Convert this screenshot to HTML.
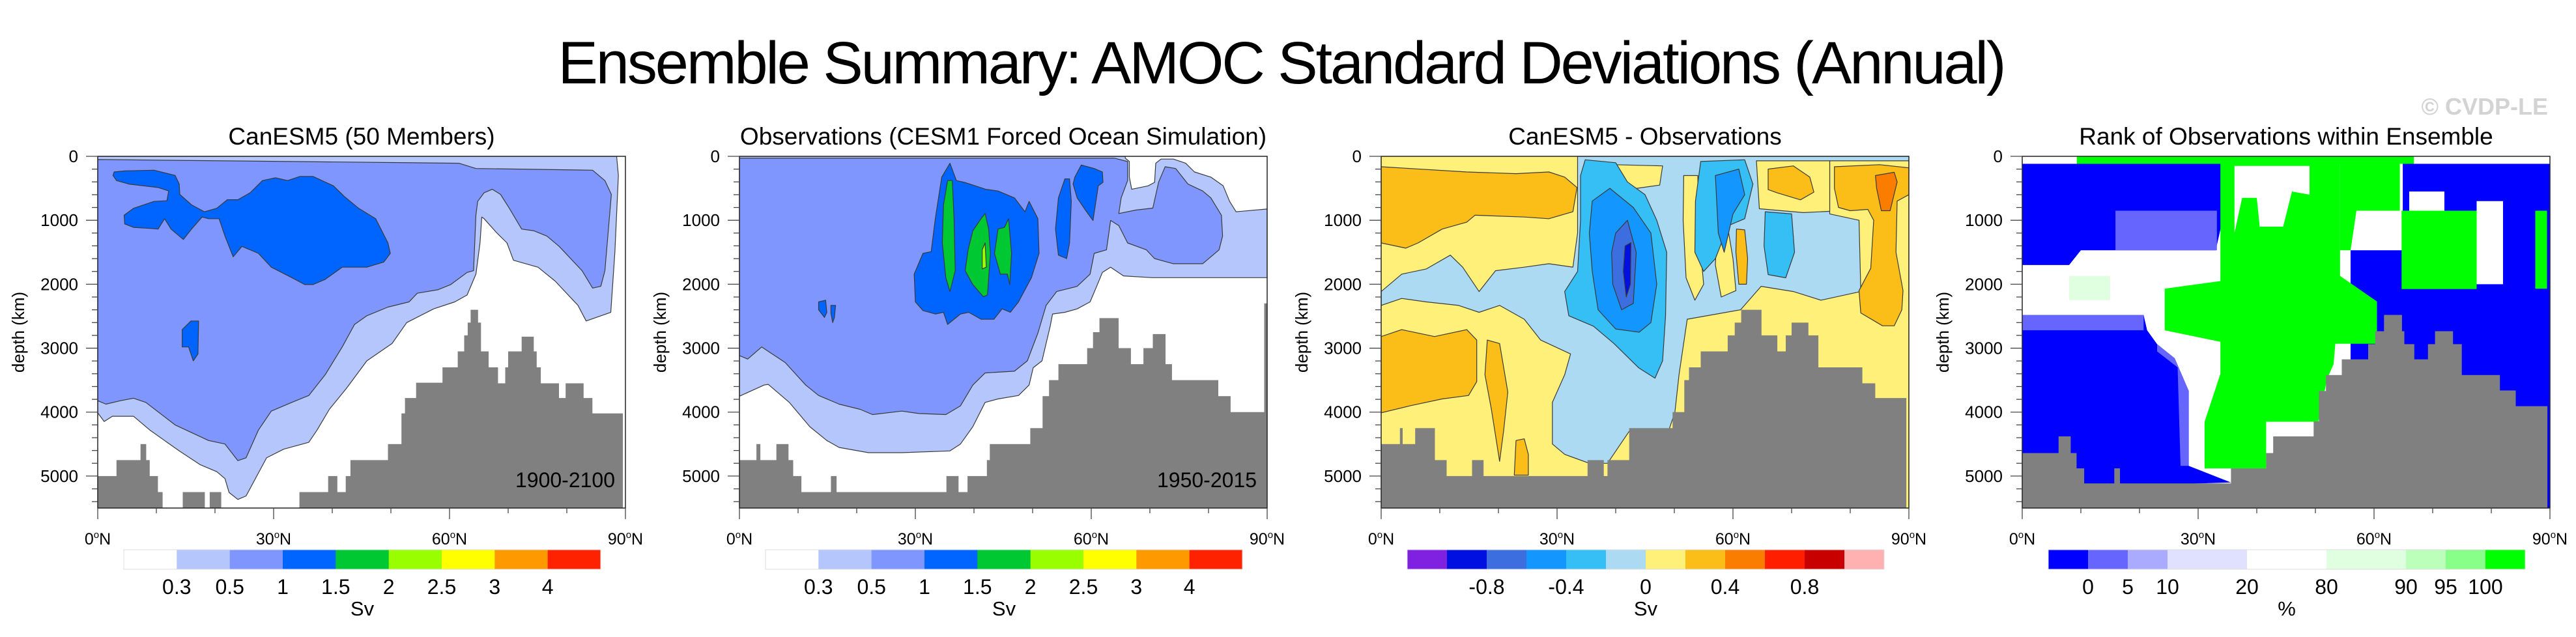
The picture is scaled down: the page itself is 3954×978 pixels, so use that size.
<!DOCTYPE html>
<html><head><meta charset="utf-8"><title>AMOC Standard Deviations</title>
<style>html,body{margin:0;padding:0;background:#fff}svg{display:block}text{font-family:"Liberation Sans",Arial,sans-serif}</style>
</head><body>
<svg id="chart" width="3954" height="978" viewBox="0 0 3954 978" xmlns="http://www.w3.org/2000/svg">
<text x="1968" y="128" font-size="92" text-anchor="middle" textLength="2223">Ensemble Summary: AMOC Standard Deviations (Annual)</text>
<text x="3911" y="176" font-size="36" font-weight="bold" fill="#d3d3d3" text-anchor="end">© CVDP-LE</text>
</svg>
<script>
// ---------- data ----------
const depthTicks = [0, 1000, 2000, 3000, 4000, 5000];
const latTicks = [0, 30, 60, 90];
const panelTitles = ["CanESM5 (50 Members)", "Observations (CESM1 Forced Ocean Simulation)", "CanESM5 - Observations", "Rank of Observations within Ensemble"];
const panelPeriods = ["1900-2100", "1950-2015", "", ""];
const sdLabels = ["0.3", "0.5", "1", "1.5", "2", "2.5", "3", "4"];
const diffLabels = ["-0.8", "-0.4", "0", "0.4", "0.8"];
const rankLabels = ["0", "5", "10", "20", "80", "90", "95", "100"];

// bathymetry (lat bin edges, depth of sea floor)
const topoEdges1 = [0,3.2,7.3,8.2,8.8,10.2,11,14.5,18.2,19.1,21,34.4,39.3,40.8,42.3,43.1,49.5,51.8,52.4,54.3,58.8,61.4,62.5,63.1,63.6,64.8,65.3,66.6,68.2,69.5,70,72.3,74.3,74.8,75.5,78.6,79.8,82.8,84.3,89.5];
const topoDepth1 = [5000,4750,4500,4750,5000,5250,5500,5250,5500,5250,5500,5250,5000,5250,5000,4750,4500,4020,3780,3540,3300,3050,2800,2600,2400,2600,3050,3300,3550,3300,3050,2820,3050,3300,3550,3780,3550,3780,4020];
const topoEdges2 = [0,2.9,3.5,6.3,8.3,9.1,10.5,15.6,16.5,35.3,37.3,38.9,42.2,42.7,49.6,51.7,52.8,54.4,59.3,60.3,61.4,64.6,66.7,68.9,70.5,72.6,73.7,81.6,83.7,89.5,90];
const topoDepth2 = [4750,4500,4750,4500,4750,5000,5250,5000,5250,5000,5250,5000,4750,4500,4250,3750,3500,3250,3000,2750,2530,3000,3250,3000,2780,3250,3500,3750,4000,2300];
const topoEdges3 = [0,3.2,3.6,5.8,9.1,11.1,15.5,17.4,35.2,37.9,38.6,42.3,49.7,51.7,52.5,54.5,59.1,60.3,61.4,64.8,67.5,69,70,72.8,74.5,82,84.2,89.5];
const topoDepth3 = [4500,4250,4500,4250,4750,5000,4750,5000,4750,5000,4750,4250,4000,3500,3300,3050,2800,2600,2400,2800,3050,2800,2600,2800,3300,3550,3780];
const topoEdges4 = [0,6.2,8.2,9.2,10.5,15.7,16.6,35.6,41.6,42.8,49.7,50.6,51.8,54.5,59,60.2,61.7,64.7,65.1,66.8,69.2,70.4,73.4,74.9,81.4,84.1,89.5];
const topoDepth4 = [4640,4380,4640,4880,5115,4880,5115,4880,4640,4380,4145,3670,3420,3175,2937,2735,2480,2735,2937,3175,2937,2735,2937,3420,3662,3907];

// panel 1 contour regions [lat, depth]
const p1Light = [[0,0],[88.5,0],[88.8,300],[88.2,1500],[87.5,2440],[83.3,2575],[81.9,2330],[78,1950],[75.1,1735],[70.9,1626],[69.8,1355],[68,1192],[65.9,976],[65.5,950],[65.2,1355],[64.5,1843],[63,2168],[60.9,2276],[57.3,2385],[52.7,2600],[50.2,2927],[45.9,3198],[42.4,3631],[39.5,3957],[37.4,4282],[36,4472],[31.7,4580],[28.8,4715],[25.3,5312],[23.9,5366],[22.4,5257],[21.7,5040],[20.3,4932],[17.5,4824],[13.9,4607],[8.9,4282],[7.5,4173],[6.1,4065],[2.5,4065],[1.1,4146],[0,4011]];
const p1Mid = [[0,50],[61.6,108],[64.5,190],[84.4,217],[86.5,380],[87.6,596],[86.5,1789],[85.8,2033],[84.4,2060],[82.6,1789],[78.7,1409],[76.6,1247],[74.4,1165],[72.3,1138],[70.2,813],[68.7,596],[67.3,515],[65.9,569],[64.8,705],[64.5,921],[64.1,1789],[63,1816],[60.2,2005],[58,2087],[54.5,2141],[53.1,2276],[49.5,2358],[45.9,2493],[43.8,2629],[41.7,2981],[38.8,3415],[36,3740],[33.1,3848],[29.6,3984],[27.4,4282],[25.3,4715],[23.9,4759],[21.7,4499],[18.9,4444],[13.2,4200],[8.2,3848],[6.1,3783],[3.9,3821],[1.4,3875],[0,3821]];
const p1Dark1 = [[2.8,244],[4.6,228],[9.6,217],[13.2,298],[13.9,434],[14,596],[16,759],[18.2,867],[20.3,813],[22.1,678],[23.9,678],[26,569],[28.1,379],[30.3,336],[32.4,379],[34.5,314],[36.7,314],[40.2,461],[42,623],[44.5,813],[47.4,976],[49.5,1355],[49.9,1518],[48.8,1653],[45.9,1734],[41.7,1734],[38.8,1924],[36.7,2005],[35.3,2005],[33.1,1897],[29.6,1734],[27.4,1518],[24.6,1409],[23.1,1572],[21.7,1247],[20.7,976],[18.9,976],[17.8,949],[16,1138],[14.6,1301],[12.5,1138],[11.4,976],[10.3,1138],[8.9,1127],[6.1,1111],[4.6,1057],[4.5,921],[6.1,813],[9.6,705],[11.8,694],[12.1,542],[10.3,488],[5.3,434],[3.2,379],[2.6,298]];
const p1Dark2 = [[14.4,2710],[15.9,2575],[17.2,2575],[17.1,3090],[16.3,3198],[15.5,2981],[14.4,2981]];

// panel 2 contour regions
const p2Light = [[0,0],[65.8,0],[65.8,27],[66.5,81],[66.5,325],[66.9,515],[69.7,461],[70.8,407],[71,108],[71.9,43],[74,43],[76.1,108],[77.6,244],[80.4,325],[82.5,461],[83.6,705],[84.7,867],[90,824],[90,1897],[70.4,1897],[65.5,1870],[63.3,1734],[61.9,1816],[60.8,2060],[59.8,2276],[57.6,2385],[55.5,2439],[53.4,2466],[53,2656],[51.6,3198],[50.1,3306],[49.4,3577],[47.6,3740],[44.1,3794],[41.9,3848],[39.8,4228],[37.7,4499],[35.9,4607],[27.7,4634],[22,4634],[17,4553],[14.9,4444],[12,4228],[8.5,3848],[4.9,3566],[4.2,3577],[0,3751]];
const p2Mid = [[0,30],[64,30],[66.2,81],[66.2,380],[65.1,650],[64.7,894],[67.6,840],[70.5,810],[71.5,400],[72.6,163],[74.4,190],[76.5,434],[79,542],[80.4,650],[82.2,921],[82.4,1247],[81.8,1463],[80.4,1572],[79,1680],[74,1680],[70.8,1599],[69.4,1463],[66.2,1355],[64.7,1084],[63.3,1003],[62.6,1463],[60.5,1518],[59.8,1843],[57.6,2033],[54.1,2114],[52.3,2331],[50.9,2764],[49.1,3198],[46.9,3360],[41.9,3388],[39.8,3577],[37.7,3902],[35.2,4038],[30.6,4022],[27.7,3984],[22.7,4038],[20.6,3957],[17,3875],[13.5,3740],[11.3,3577],[7.8,3225],[3.8,2981],[1.4,3171],[0,3117]];
const p2Dark1 = [[34.5,325],[35.9,108],[37,379],[38.4,407],[42,515],[44.1,542],[46.9,650],[48.7,867],[49.4,705],[50.9,976],[51.1,1518],[49.8,1897],[47.6,2276],[46.2,2439],[44.8,2385],[43.4,2547],[41.2,2547],[39.1,2439],[37.7,2466],[35.5,2629],[34.8,2439],[33.4,2466],[31.3,2412],[30,2276],[29.8,1843],[31.3,1518],[32.7,1490],[33.4,976]];
const p2Dark2 = [[13.5,2276],[14.7,2250],[14.9,2439],[14.5,2520],[13.5,2400]];
const p2Dark3 = [[15.6,2330],[16.4,2330],[16.2,2520],[15.9,2600],[15.6,2450]];
const p2Dark4 = [[55.5,352],[56.3,352],[56.6,705],[56.3,1355],[55.8,1599],[54.4,1545],[53.9,1138],[54.4,650]];
const p2Dark5 = [[57.2,325],[58.3,135],[60.5,190],[61.9,244],[62,407],[61.2,461],[60.3,1003],[59,840],[57.6,650],[56.9,434]];
const p2Green1 = [[35.5,379],[36.3,379],[36.6,976],[36.8,1789],[35.9,2114],[35.2,1897],[34.6,1355],[34.8,759]];
const p2Green2 = [[39.8,1165],[41.2,976],[41.9,894],[42.5,1138],[42.8,1518],[42.3,2168],[41.6,2195],[39.8,2005],[38.5,1789],[39,1463]];
const p2Green3 = [[44.1,1138],[45.2,1111],[45.9,976],[46.4,1518],[46.1,2005],[45.7,1843],[44.5,1843],[43.5,1518]];
const p2Lime = [[41.4,1463],[41.9,1355],[42.1,1734],[41.4,1761]];

// panel 3 contour regions
const p3LightBlue = [[33.5,0],[90,0],[90,70],[76.5,70],[76.5,900],[81.5,1000],[81.8,2114],[75,2250],[70.3,2114],[64.8,2033],[61.3,2400],[52.2,2547],[50.8,3415],[50.1,4000],[49,4300],[42.3,4300],[38.6,4800],[35.5,4800],[31.3,4661],[29.2,4499],[29.2,3848],[31.3,3415],[32.3,3090],[27.2,2873],[24.4,2547],[20.2,2331],[16.7,2439],[13.2,2331],[7.7,2276],[3.5,2222],[0,2331],[0,2114],[3.5,1843],[7.7,1761],[11.8,1545],[13.9,1734],[16.7,2114],[19.5,1789],[24.4,1734],[28.6,1680],[32.7,1734],[33.5,1200]];
const p3YellowA = [[64,70],[76.5,70],[76.5,860],[72,880],[64.5,820]];
const p3YellowB = [[51.6,300],[54,300],[54.2,1200],[55,2000],[53.5,2250],[52,1900],[51.5,1000]];
const p3YellowC = [[57.3,1100],[59,1050],[60,1600],[60.5,2100],[58,2200],[57,1700]];
const p3YellowD = [[39.7,130],[48,150],[47.5,450],[42,520],[40,300]];
const p3OrangeTL = [[0,163],[4.9,190],[14.6,244],[23,271],[28.6,244],[31.3,325],[33.4,488],[32.7,867],[28.6,976],[24.4,949],[16,921],[14.6,1030],[10.4,1138],[6.3,1355],[4.2,1436],[0,1355]];
const p3OrangeBL = [[0,2818],[3.5,2710],[9.1,2818],[14.6,2710],[16.3,2873],[16.3,3523],[14.9,3740],[10.4,3794],[4.9,3902],[0,4011]];
const p3OrangeS1 = [[18.1,2873],[20.2,2927],[21.6,3686],[20.9,4282],[20.2,4770],[18.8,3957],[17.7,3415]];
const p3OrangeS2 = [[23,4444],[24.4,4417],[25.1,4661],[25.1,4986],[22.7,4986]];
const p3OrangeTM = [[66,200],[70.3,150],[73.1,325],[73.8,560],[71.5,680],[67.5,569],[66,520]];
const p3OrangeM = [[60.6,1138],[62,1150],[62.5,1600],[62.3,2000],[61,2000],[60.5,1500]];
const p3OrangeR = [[77.3,163],[85,130],[90,180],[90,600],[88,700],[87.8,1500],[89,2100],[88.8,2400],[87.5,2650],[85.5,2650],[81.8,2450],[81.5,2100],[83.5,1750],[84,1000],[83,830],[80,850],[78,800],[77.3,500]];
const p3Red = [[84.3,300],[87.5,250],[88,400],[86.8,850],[85.3,850],[84.5,500]];
const p3Cyan1 = [[34.8,54],[40,100],[42,400],[45,600],[47,1000],[48.7,1500],[48.5,2500],[48,3198],[46.7,3469],[43.9,3306],[39.7,2927],[36.2,2656],[32,2493],[31.3,2114],[33.5,1800],[34,1000],[34,300]];
const p3Cyan2 = [[54.5,80],[62,54],[63.4,434],[62,976],[59.2,1084],[57,1600],[55,1800],[53.5,1500],[53.6,700]];
const p3Cyan3 = [[65.5,867],[70,900],[70.5,1500],[69,1900],[66,1850],[65.3,1400]];
const p3Blue1 = [[36,700],[39,500],[43,800],[46,1200],[47,2000],[46,2600],[44,2750],[40,2700],[37,2400],[36,1800],[35.5,1200]];
const p3Blue2 = [[57,300],[61,200],[62,600],[60,900],[58.5,1500],[57.5,1200]];
const p3Blue3 = [[40,1200],[42,1000],[43.5,1500],[43,2300],[41,2400],[39.5,2000],[39.3,1500]];
const p3Blue4 = [[41.6,1400],[42.6,1350],[42.5,2000],[41.8,2200],[41.3,1800]];

// panel 4 rank regions
const p4BlueTL = [[0,117],[34.4,117],[34.4,900],[33,1470],[10,1470],[8,1700],[0,1700]];
const p4MidTL = [[15.9,850],[33.2,850],[33.2,1470],[15.9,1470]];
const p4BlueBL = [[0,2480],[20.7,2480],[21.3,2720],[23,2937],[26,3157],[28.4,3670],[28.4,4840],[35.6,5100],[0,5200]];
const p4MidBL = [[0,2480],[20.7,2480],[20.7,2720],[0,2720]];
const p4MidStrip = [[23,2937],[26,3157],[28.4,3670],[28.4,4840],[27,4840],[26.5,3300],[23,3050]];
const p4BlueR = [[56,1470],[64.9,1470],[64.9,117],[90,117],[90,5500],[56,5500]];
const p4GreenTop = [[9.3,0],[66.8,0],[66.8,117],[9.3,117]];
const p4GreenMain = [[33.8,117],[54.2,117],[54.2,1870],[60.5,2270],[60.5,2930],[53.4,2930],[53.1,3250],[52,3480],[50.5,4150],[41.6,4150],[41.6,4880],[31.1,4880],[31.1,4150],[33.8,3400],[33.8,2900],[24.3,2720],[24.3,2070],[33.8,1950]];
const p4GreenTR = [[54.2,117],[64.4,117],[64.4,850],[57,850],[56,1470],[54.2,1470]];
const p4WhiteTop = [[36.2,150],[49,150],[49,600],[46,550],[44.5,1100],[40.5,1100],[40,650],[37.5,650],[36.2,1200]];
const p4GreenR1 = [[64.7,850],[77.5,850],[77.5,2075],[64.7,2075]];
const p4GreenR2 = [[87.5,850],[89.5,850],[89.5,2070],[87.5,2070]];
const p4WhiteR = [[77.5,700],[82,700],[82,2000],[77.5,2000]];
const p4WhiteR2 = [[66,550],[72,550],[72,850],[66,850]];
const p4PaleL = [[8,1870],[15,1870],[15,2250],[8,2250]];

// ---------- geometry ----------
const svg = document.getElementById('chart');
const NS = 'http://www.w3.org/2000/svg';
const PL = [150, 1135, 2120, 3104];
const PT = 240, PW = 810, PH = 540, DMAX = 5500;
function mk(tag, attrs, parent) {
  const e = document.createElementNS(NS, tag);
  for (const k in attrs) e.setAttribute(k, attrs[k]);
  (parent || svg).appendChild(e);
  return e;
}
function xs(L, lat) { return L + lat / 90 * PW; }
function ys(d) { return PT + d / DMAX * PH; }
function poly(L, pts, fill, stroke, g, name) {
  const s = pts.map(p => xs(L, p[0]).toFixed(1) + ',' + ys(p[1]).toFixed(1)).join(' ');
  const e = mk('polygon', {points: s, fill: fill, stroke: stroke ? '#3a3a3a' : 'none', 'stroke-width': stroke ? 1.2 : 0, 'stroke-linejoin': 'round'}, g);
  
  
}

const C1 = {light: '#b4c6fb', mid: '#7f96ff', dark: '#0064ff', green: '#00c832', lime: '#99ff00'};
const C3 = {purple: '#8020e0', navy: '#0010e0', blue3: '#3c6ee0', blue: '#1496ff', cyan: '#35bff5', lblue: '#acdaf2', yellow: '#fff07a', orange: '#fbbe18', dorange: '#fa7d00', red: '#ff1e00', dred: '#c80000', pink: '#ffb0b0'};
const C4 = {b: '#0000ff', b2: '#6666ff', b3: '#aaaaff', b4: '#e0e0ff', w: '#ffffff', g4: '#e0ffe0', g3: '#bbffbb', g2: '#88ff88', g: '#00ff00'};

const layers = [
  [[p1Light, C1.light, 'contour-0.3'], [p1Mid, C1.mid, 'contour-0.5'], [p1Dark1, C1.dark, 'contour-1'], [p1Dark2, C1.dark, 'contour-1']],
  [[p2Light, C1.light, 'contour-0.3'], [p2Mid, C1.mid, 'contour-0.5'], [p2Dark1, C1.dark, 'contour-1'], [p2Dark2, C1.dark, 'contour-1'], [p2Dark3, C1.dark, 'contour-1'], [p2Dark4, C1.dark, 'contour-1'], [p2Dark5, C1.dark, 'contour-1'], [p2Green1, C1.green, 'contour-1.5'], [p2Green2, C1.green, 'contour-1.5'], [p2Green3, C1.green, 'contour-1.5'], [p2Lime, C1.lime, 'contour-2']],
  [[p3LightBlue, C3.lblue, 'contour-neg0.2'], [p3YellowA, C3.yellow, 'contour-0'], [p3YellowB, C3.yellow, 'contour-0'], [p3YellowC, C3.yellow, 'contour-0'], [p3YellowD, C3.yellow, 'contour-0'], [p3OrangeTL, C3.orange, 'contour-0.2'], [p3OrangeBL, C3.orange, 'contour-0.2'], [p3OrangeS1, C3.orange, 'contour-0.2'], [p3OrangeS2, C3.orange, 'contour-0.2'], [p3OrangeTM, C3.orange, 'contour-0.2'], [p3OrangeM, C3.orange, 'contour-0.2'], [p3OrangeR, C3.orange, 'contour-0.2'], [p3Red, C3.dorange, 'contour-0.4'], [p3Cyan1, C3.cyan, 'contour-neg0.4'], [p3Cyan2, C3.cyan, 'contour-neg0.4'], [p3Cyan3, C3.cyan, 'contour-neg0.4'], [p3Blue1, C3.blue, 'contour-neg0.6'], [p3Blue2, C3.blue, 'contour-neg0.6'], [p3Blue3, C3.blue3, 'contour-neg0.8'], [p3Blue4, C3.navy, 'contour-neg1']],
  [[p4BlueR, C4.b, 'rank-0'], [p4BlueTL, C4.b, 'rank-0'], [p4MidTL, C4.b2, 'rank-5'], [p4BlueBL, C4.b, 'rank-0'], [p4MidBL, C4.b2, 'rank-5'], [p4MidStrip, C4.b2, 'rank-5'], [p4PaleL, C4.g4, 'rank-80'], [p4GreenTop, C4.g, 'rank-100'], [p4GreenMain, C4.g, 'rank-100'], [p4GreenTR, C4.g, 'rank-100'], [p4WhiteTop, C4.w, 'rank-20'], [p4GreenR1, C4.g, 'rank-100'], [p4GreenR2, C4.g, 'rank-100'], [p4WhiteR, C4.w, 'rank-20'], [p4WhiteR2, C4.w, 'rank-20']]
];
const bgColors = ['#ffffff', '#ffffff', C3.yellow, '#ffffff'];
const topo = [[topoEdges1, topoDepth1], [topoEdges2, topoDepth2], [topoEdges3, topoDepth3], [topoEdges4, topoDepth4]];

const cbColors = [
  ['#ffffff', C1.light, C1.mid, C1.dark, C1.green, C1.lime, '#ffff00', '#ff9900', '#ff2200'],
  ['#ffffff', C1.light, C1.mid, C1.dark, C1.green, C1.lime, '#ffff00', '#ff9900', '#ff2200'],
  [C3.purple, C3.navy, C3.blue3, C3.blue, C3.cyan, C3.lblue, C3.yellow, C3.orange, C3.dorange, C3.red, C3.dred, C3.pink],
  [C4.b, C4.b2, C4.b3, C4.b4, C4.b4, C4.w, C4.w, C4.g4, C4.g4, C4.g3, C4.g2, C4.g]
];
const cbLabels = [sdLabels, sdLabels, diffLabels, rankLabels];
const cbLabelPos = [[1,2,3,4,5,6,7,8], [1,2,3,4,5,6,7,8], [2,4,6,8,10], [1,2,3,5,7,9,10,11]];
const cbUnits = ['Sv', 'Sv', 'Sv', '%'];

for (let p = 0; p < 4; p++) {
  const L = PL[p];
  const g = mk('g', {});
  
  
  const cp = mk('clipPath', {id: 'clip' + p}, g);
  mk('rect', {x: L, y: PT, width: PW, height: PH}, cp);
  const plot = mk('g', {'clip-path': 'url(#clip' + p + ')'}, g);
  
  
  const bg = mk('rect', {x: L, y: PT, width: PW, height: PH, fill: bgColors[p]}, plot);
  
  
  layers[p].forEach(l => poly(L, l[0], l[1], p < 3, plot, l[2]));
  // bathymetry
  const edges = topo[p][0], deps = topo[p][1];
  for (let i = 0; i < deps.length; i++) {
    const x0 = xs(L, edges[i]), x1 = xs(L, edges[i + 1]), y0 = ys(deps[i]);
    const r = mk('rect', {x: x0.toFixed(1), y: y0.toFixed(1), width: (x1 - x0 + 0.6).toFixed(1), height: (PT + PH - y0).toFixed(1), fill: '#808080'}, plot);
    
    
  }
  const fr = mk('rect', {x: L, y: PT, width: PW, height: PH, fill: 'none', stroke: '#222', 'stroke-width': 1.5}, g);
  
  
  // y ticks
  for (let d = 0; d <= 5400; d += 200) {
    const major = d % 1000 === 0;
    const t = mk('line', {x1: L - (major ? 18 : 9), x2: L, y1: ys(d), y2: ys(d), stroke: '#444', 'stroke-width': 1.3}, g);
    
    
  }
  depthTicks.forEach(d => {
    const t = mk('text', {x: L - 30, y: ys(d) + 9, 'font-size': 26, 'text-anchor': 'end'}, g);
    t.textContent = d;
    
    
  });
  const yl = mk('text', {x: 0, y: 0, 'font-size': 26, 'text-anchor': 'middle', transform: 'translate(' + (L - 113) + ',' + (PT + PH / 2) + ') rotate(-90)'}, g);
  yl.textContent = 'depth (km)';
  
  
  // x ticks
  for (let a = 0; a <= 90; a += 10) {
    const major = a % 30 === 0;
    const t = mk('line', {x1: xs(L, a), x2: xs(L, a), y1: PT + PH, y2: PT + PH + (major ? 17 : 8), stroke: '#444', 'stroke-width': 1.3}, g);
    
    
  }
  latTicks.forEach(a => {
    const t = mk('text', {x: xs(L, a), y: 836, 'font-size': 25, 'text-anchor': 'middle'}, g);
    
    
    const t1 = mk('tspan', {}, t); t1.textContent = a;
    const t2 = mk('tspan', {'font-size': 15, dy: -10}, t); t2.textContent = 'o';
    const t3 = mk('tspan', {dy: 10}, t); t3.textContent = 'N';
  });
  // title
  const ti = mk('text', {x: L + PW / 2, y: 222, 'font-size': 37, 'text-anchor': 'middle'}, g);
  ti.textContent = panelTitles[p];
  
  
  if (panelPeriods[p]) {
    const an = mk('text', {x: L + PW - 16, y: 748, 'font-size': 32, 'text-anchor': 'end'}, g);
    an.textContent = panelPeriods[p];
    
    
  }
  // colorbar
  const cols = cbColors[p], cx0 = L + 40, cw = 732 / cols.length;
  const cb = mk('g', {}, g);
  
  
  cols.forEach((c, i) => {
    const r = mk('rect', {x: (cx0 + i * cw).toFixed(1), y: 844, width: (cw + 0.5).toFixed(1), height: 30, fill: c}, cb);
    
    
  });
  const cbf = mk('rect', {x: cx0, y: 844, width: 732, height: 30, fill: 'none', stroke: '#ddd', 'stroke-width': 1}, cb);
  
  
  cbLabels[p].forEach((lab, i) => {
    const t = mk('text', {x: (cx0 + cbLabelPos[p][i] * cw).toFixed(1), y: 912, 'font-size': 32, 'text-anchor': 'middle'}, cb);
    t.textContent = lab;
    
    
  });
  const un = mk('text', {x: cx0 + 366, y: 945, 'font-size': 31, 'text-anchor': 'middle'}, cb);
  un.textContent = cbUnits[p];
  
  
}
</script>
</body></html>
